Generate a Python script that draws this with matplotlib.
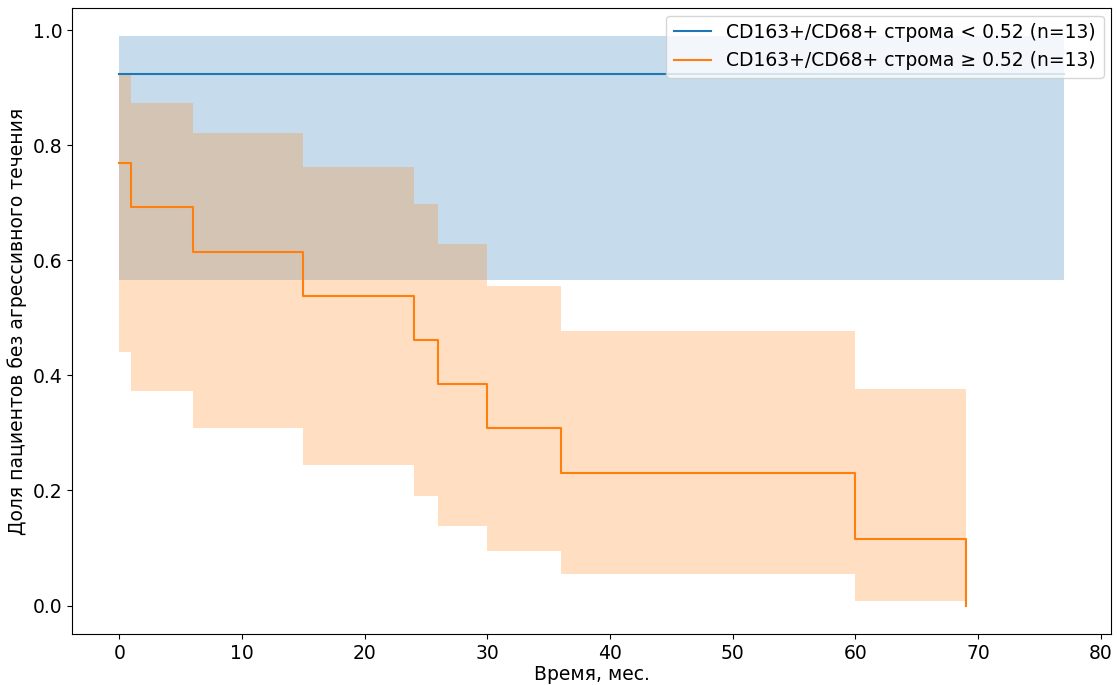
import matplotlib.pyplot as plt
import numpy as np

plt.rcParams['font.family'] = ['DejaVu Sans']

# группа 1: CD163+/CD68+ строма < 0.52
t_low = [0, 77]
s_low = [0.923, 0.923]
lo_low = [0.566, 0.566]
hi_low = [0.989, 0.989]

# группа 2: CD163+/CD68+ строма >= 0.52
t_high = [0, 1, 6, 15, 24, 26, 30, 36, 60, 69]
s_high = [0.769, 0.692, 0.615, 0.538, 0.462, 0.385, 0.308, 0.231, 0.115, 0.0]
lo_high = [0.441, 0.372, 0.308, 0.245, 0.191, 0.139, 0.094, 0.055, 0.008, 0.008]
hi_high = [0.922, 0.874, 0.821, 0.762, 0.697, 0.628, 0.555, 0.477, 0.376, 0.376]

labels = ['CD163+/CD68+ строма < 0.52 (n=13)',
          'CD163+/CD68+ строма ≥ 0.52 (n=13)']

fs = 13.5

fig = plt.figure(figsize=(11.17, 6.85), dpi=100)
ax = fig.add_axes([72/1117, 1 - 634/685, (1111-72)/1117, (634-8)/685])

ax.step(t_low, s_low, where='post', color='tab:blue', lw=1.5, label=labels[0])
ax.fill_between(t_low, lo_low, hi_low, step='post', color='tab:blue', alpha=0.25, lw=0)
ax.step(t_high, s_high, where='post', color='tab:orange', lw=1.5, label=labels[1])
ax.fill_between(t_high, lo_high, hi_high, step='post', color='tab:orange', alpha=0.25, lw=0)

ax.set_xlabel('Время, мес.', fontsize=fs, labelpad=2)
ax.set_ylabel('Доля пациентов без агрессивного течения', fontsize=fs, labelpad=4)
ax.tick_params(labelsize=fs)
ax.legend(loc='upper right', fontsize=fs, borderaxespad=0.4)

fig.savefig('out.png', dpi=100)
